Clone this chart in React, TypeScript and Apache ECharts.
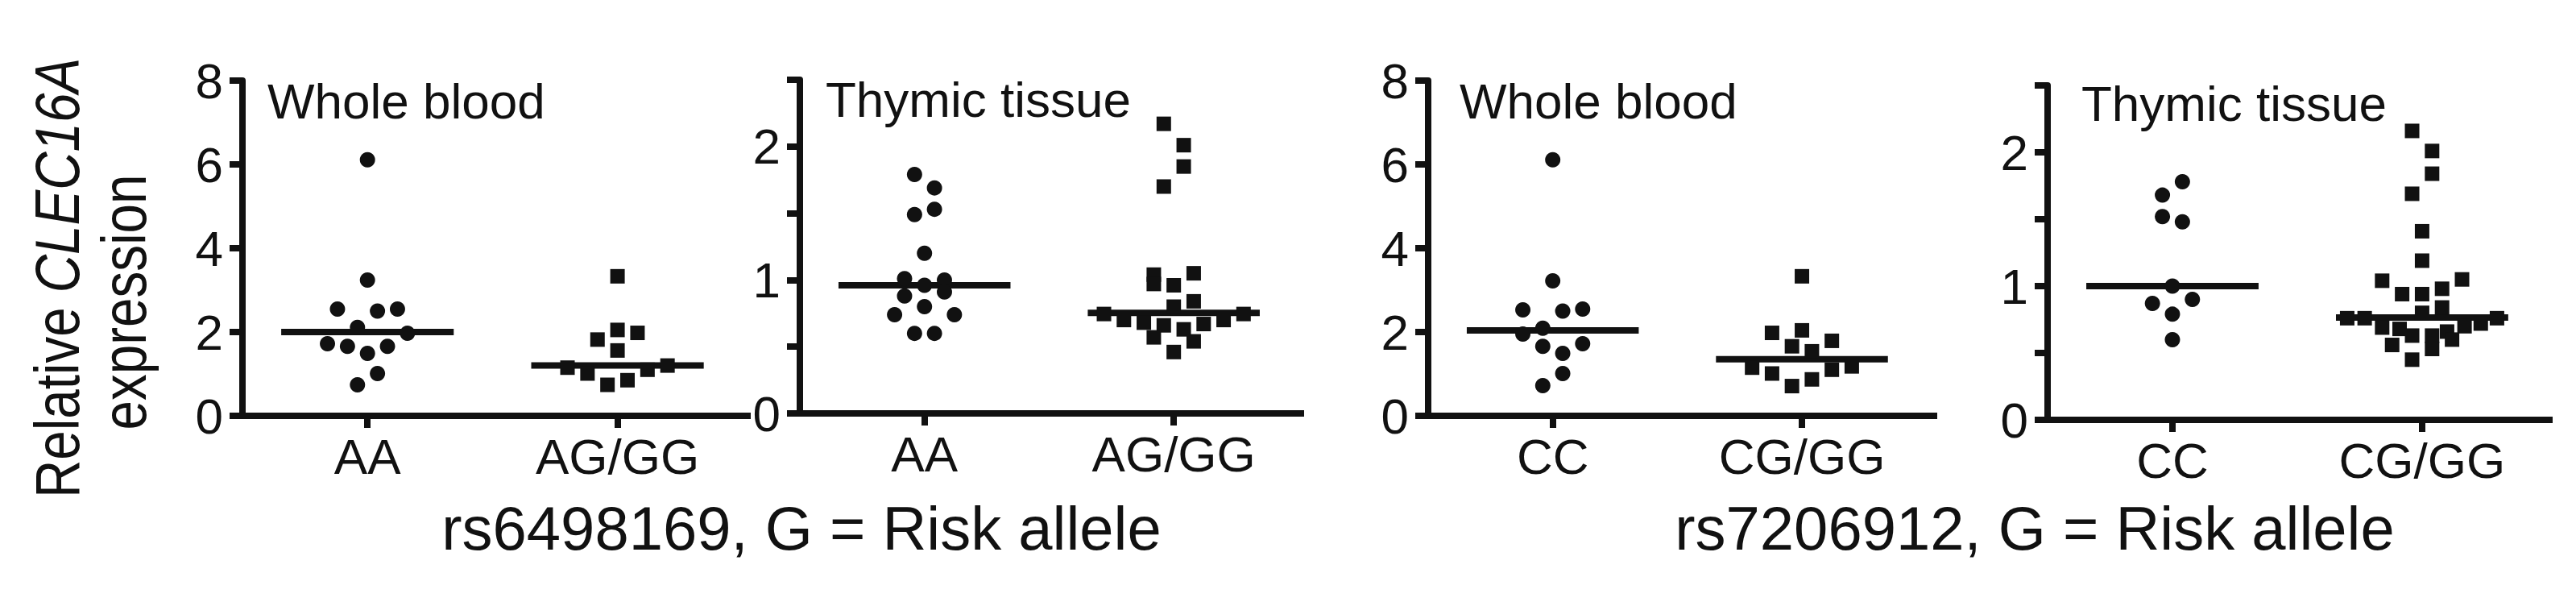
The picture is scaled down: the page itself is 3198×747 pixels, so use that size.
import React, { useEffect, useRef } from "react";
import * as echarts from "echarts";

// ---------- DATA ----------
const catsRs6498169 = ["AA", "AG/GG"];
const catsRs7206912 = ["CC", "CG/GG"];
const panelTitles = ["Whole blood", "Thymic tissue", "Whole blood", "Thymic tissue"];
const snpLabels = ["rs6498169, G = Risk allele", "rs7206912, G = Risk allele"];

// Panel 1: rs6498169, whole blood
const wbAA = [6.11, 3.24, 2.55, 2.5, 2.55, 2.11, 1.97, 1.72, 1.66, 1.66, 1.49, 1.01, 0.74];
const wbAAJitter = [0, 0, -0.12, 0.04, 0.12, -0.04, 0.16, -0.16, -0.08, 0.08, 0, 0.04, -0.04];
const wbAGGG = [3.33, 1.82, 2.05, 1.98, 1.56, 1.15, 1.2, 1.01, 1.1, 0.74, 0.85];
const wbAGGGJitter = [0, -0.08, 0, 0.08, 0, -0.2, 0.2, -0.12, 0.12, -0.04, 0.04];

// Panel 2: rs6498169, thymic tissue
const thAA = [1.79, 1.69, 1.49, 1.53, 1.2, 1.01, 1.0, 0.96, 0.88, 0.91, 0.8, 0.74, 0.74, 0.6, 0.6];
const thAAJitter = [-0.04, 0.04, -0.04, 0.04, 0, -0.08, 0.08, 0, -0.08, 0.08, 0, -0.12, 0.12, -0.04, 0.04];
const thAGGG = [2.17, 2.01, 1.85, 1.7, 1.04, 0.97, 1.05, 0.96, 0.84, 0.8, 0.745, 0.7, 0.68, 0.66, 0.63, 0.67, 0.7, 0.745, 0.57, 0.54, 0.46];
const thAGGGJitter = [-0.04, 0.04, 0.04, -0.04, -0.08, -0.08, 0.08, 0, 0.08, 0, -0.28, -0.2, -0.12, -0.04, 0.04, 0.12, 0.2, 0.28, -0.08, 0.08, 0];

// Panel 3: rs7206912, whole blood
const wbCC = [6.11, 3.22, 2.53, 2.5, 2.55, 2.09, 1.95, 1.66, 1.72, 1.49, 1.01, 0.72];
const wbCCJitter = [0, 0, -0.12, 0.04, 0.12, -0.04, -0.12, -0.04, 0.12, 0.04, 0.04, -0.04];
const wbCGGG = [3.33, 1.98, 2.04, 1.79, 1.66, 1.54, 1.15, 1.18, 1.01, 1.1, 0.87, 0.71];
const wbCGGGJitter = [0, -0.12, 0, 0.12, -0.04, 0.04, -0.2, 0.2, -0.12, 0.12, 0.04, -0.04];

// Panel 4: rs7206912, thymic tissue
const thCC = [1.78, 1.68, 1.52, 1.48, 1.0, 0.87, 0.9, 0.79, 0.6];
const thCCJitter = [0.04, -0.04, -0.04, 0.04, 0, -0.08, 0.08, 0, 0];
const thCGGG = [2.16, 2.01, 1.84, 1.69, 1.41, 1.19, 1.04, 1.05, 0.94, 0.94, 0.98, 0.8, 0.84, 0.76, 0.76, 0.69, 0.68, 0.63, 0.63, 0.66, 0.7, 0.72, 0.76, 0.56, 0.53, 0.6, 0.45];
const thCGGGJitter = [-0.04, 0.04, 0.04, -0.04, 0, 0, -0.16, 0.16, -0.08, 0, 0.08, 0, 0.08, -0.3, -0.23, -0.16, -0.09, -0.04, 0.04, 0.1, 0.17, 0.235, 0.3, -0.12, 0.04, 0.12, -0.04];

// Medians (horizontal lines)
const mediansP1 = [2.0, 1.2];
const mediansP2 = [0.96, 0.754];
const mediansP3 = [2.04, 1.35];
const mediansP4 = [1.0, 0.765];

// Y axis scales
const yMaxes = [8, 2.5, 8, 2.5];
const yIntervals = [2, 0.5, 2, 0.5];

// ---------- LAYOUT / STYLE ----------
const FONT = "'Liberation Sans', Arial, Helvetica, sans-serif";
const INK = "#111111";
const LW = 8;
const gridBoxes = [
  { left: 301, top: 100, width: 627, height: 416 },
  { left: 993, top: 99, width: 622, height: 414 },
  { left: 1773, top: 100, width: 628, height: 416 },
  { left: 2542, top: 106, width: 623, height: 415 },
];
const xMaxes = [2.52, 2.51, 2.53, 2.51];
const titlePos = [
  [332, 125],
  [1025, 123],
  [1812, 125],
  [2584, 128],
];
const MEDIAN_HALF = 0.345;

const panels = [
  { cats: catsRs6498169, g1: wbAA, j1: wbAAJitter, g2: wbAGGG, j2: wbAGGGJitter, med: mediansP1 },
  { cats: catsRs6498169, g1: thAA, j1: thAAJitter, g2: thAGGG, j2: thAGGGJitter, med: mediansP2 },
  { cats: catsRs7206912, g1: wbCC, j1: wbCCJitter, g2: wbCGGG, j2: wbCGGGJitter, med: mediansP3 },
  { cats: catsRs7206912, g1: thCC, j1: thCCJitter, g2: thCGGG, j2: thCGGGJitter, med: mediansP4 },
];

function buildOption() {
  const grid: any[] = [];
  const xAxis: any[] = [];
  const yAxis: any[] = [];
  const series: any[] = [];
  panels.forEach((p, i) => {
    grid.push({ ...gridBoxes[i], containLabel: false });
    xAxis.push({
      type: "value",
      gridIndex: i,
      min: 0.5,
      max: xMaxes[i],
      splitLine: { show: false },
      axisLine: { show: true, onZero: false, lineStyle: { color: INK, width: LW, cap: "square" } },
      axisTick: { show: true, customValues: [1, 2], length: 15, lineStyle: { color: INK, width: LW } },
      axisLabel: {
        show: true,
        customValues: [1, 2],
        formatter: (v: number) => p.cats[Math.round(v) - 1] || "",
        color: INK,
        fontSize: 62,
        fontFamily: FONT,
        margin: 19,
      },
    });
    yAxis.push({
      type: "value",
      gridIndex: i,
      min: 0,
      max: yMaxes[i],
      interval: yIntervals[i],
      splitLine: { show: false },
      axisLine: { show: true, onZero: false, lineStyle: { color: INK, width: LW } },
      axisTick: { show: true, length: 16, lineStyle: { color: INK, width: LW } },
      axisLabel: {
        color: INK,
        fontSize: 62,
        fontFamily: FONT,
        margin: 24,
        showMinLabel: true,
        showMaxLabel: true,
        formatter: (v: number) => (Math.abs(v - Math.round(v)) < 1e-9 ? String(Math.round(v)) : ""),
      },
    });
    const groups = [
      { vals: p.g1, jit: p.j1, center: 1, symbol: "circle", size: 19 },
      { vals: p.g2, jit: p.j2, center: 2, symbol: "rect", size: 18 },
    ];
    groups.forEach((g, k) => {
      series.push({
        type: "line",
        xAxisIndex: i,
        yAxisIndex: i,
        symbol: "none",
        silent: true,
        lineStyle: { color: INK, width: LW },
        data: [
          [g.center - MEDIAN_HALF, p.med[k]],
          [g.center + MEDIAN_HALF, p.med[k]],
        ],
        z: 3,
      });
      series.push({
        type: "scatter",
        xAxisIndex: i,
        yAxisIndex: i,
        symbol: g.symbol,
        symbolSize: g.size,
        itemStyle: { color: INK, opacity: 1 },
        silent: true,
        data: g.vals.map((v, n) => [g.center + g.jit[n], v]),
        z: 4,
      });
    });
  });

  const graphic: any[] = [];
  panelTitles.forEach((t, i) => {
    graphic.push({
      type: "text",
      x: titlePos[i][0],
      y: titlePos[i][1],
      silent: true,
      style: { text: t, fontSize: 62, fontFamily: FONT, fill: INK, align: "left", verticalAlign: "middle" },
    });
  });
  graphic.push({
    type: "text",
    x: 995,
    y: 655,
    silent: true,
    style: { text: snpLabels[0], fontSize: 76, fontFamily: FONT, fill: INK, align: "center", verticalAlign: "middle" },
  });
  graphic.push({
    type: "text",
    x: 2526,
    y: 655,
    silent: true,
    style: { text: snpLabels[1], fontSize: 76, fontFamily: FONT, fill: INK, align: "center", verticalAlign: "middle" },
  });
  graphic.push({
    type: "text",
    x: 71,
    y: 345,
    rotation: Math.PI / 2,
    scaleX: 0.84,
    silent: true,
    style: {
      text: "Relative {i|CLEC16A}",
      fontSize: 78,
      fontFamily: FONT,
      fill: INK,
      align: "center",
      verticalAlign: "middle",
      rich: { i: { fontStyle: "italic", fontSize: 78, fontFamily: FONT, fill: INK } },
    },
  });
  graphic.push({
    type: "text",
    x: 154,
    y: 375,
    rotation: Math.PI / 2,
    scaleX: 0.84,
    silent: true,
    style: { text: "expression", fontSize: 78, fontFamily: FONT, fill: INK, align: "center", verticalAlign: "middle" },
  });

  return {
    animation: false,
    backgroundColor: "#ffffff",
    grid,
    xAxis,
    yAxis,
    series,
    graphic,
  };
}

export default function App() {
  const ref = useRef<HTMLDivElement>(null);
  useEffect(() => {
    if (!ref.current) return;
    const chart = echarts.init(ref.current, null, { renderer: "svg" });
    chart.setOption(buildOption() as any);
    return () => chart.dispose();
  }, []);
  return (
    <div
      ref={ref}
      style={{ position: "fixed", left: 0, top: 0, width: 3198, height: 747, background: "#fff" }}
    />
  );
}
